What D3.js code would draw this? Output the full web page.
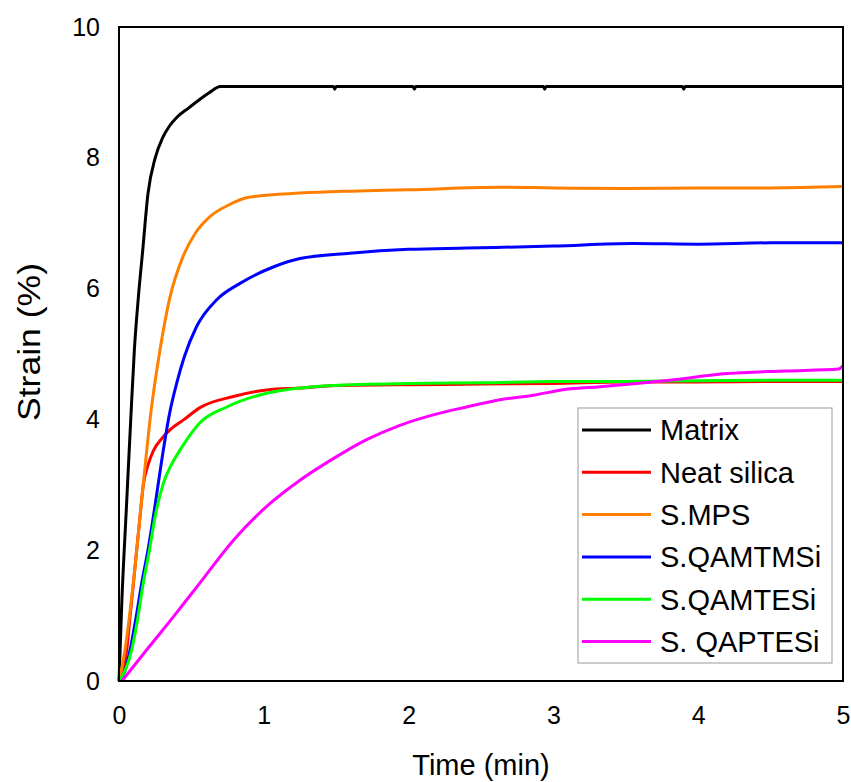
<!DOCTYPE html>
<html>
<head>
<meta charset="utf-8">
<script src="https://cdn.jsdelivr.net/npm/d3@7"></script>
<style>
  html, body { margin: 0; padding: 0; background: #fff; }
  svg text { font-family: "Liberation Sans", Arial, sans-serif; fill: #000; }
</style>
</head>
<body>
<div id="chart"></div>
<script>
(function () {
    // --- Datos ---
    const seriesNames = ["Matrix", "Neat silica", "S.MPS", "S.QAMTMSi", "S.QAMTESi", "S. QAPTESi"];
    const seriesColors = ["#000000", "#ff0000", "#ff8000", "#0000ff", "#00ff00", "#ff00ff"];

    const matrixTime = [0, 0.02, 0.05, 0.08, 0.106, 0.135, 0.164, 0.2, 0.25, 0.3, 0.35, 0.4, 0.48, 0.55, 0.62, 0.7,
        1.48, 1.49, 1.5, 2.03, 2.04, 2.05, 2.93, 2.94, 2.95, 3.89, 3.9, 3.91, 5.0];
    const matrixStrain = [0, 1.24, 2.6, 3.95, 5.06, 5.9, 6.59, 7.45, 8.0, 8.3, 8.49, 8.62, 8.76, 8.88, 8.99, 9.09,
        9.09, 9.05, 9.09, 9.09, 9.05, 9.09, 9.09, 9.05, 9.09, 9.09, 9.05, 9.09, 9.09];

    const silicaTime = [0, 0.025, 0.053, 0.076, 0.1, 0.122, 0.145, 0.168, 0.2, 0.237, 0.3, 0.352, 0.45, 0.559, 0.79,
        1.02, 1.25, 1.5, 2.0, 2.5, 3.0, 3.5, 4.0, 4.5, 5.0];
    const silicaStrain = [0, 0.15, 0.47, 0.98, 1.5, 2.0, 2.51, 3.0, 3.3, 3.52, 3.72, 3.84, 4.0, 4.18, 4.35,
        4.45, 4.48, 4.52, 4.53, 4.54, 4.55, 4.57, 4.57, 4.58, 4.58];

    const mpsTime = [0, 0.041, 0.099, 0.168, 0.22, 0.283, 0.35, 0.444, 0.528, 0.628, 0.75, 0.905, 1.25, 1.6,
        2.0, 2.63, 3.0, 3.5, 4.0, 4.5, 5.0];
    const mpsStrain = [0, 0.47, 1.5, 3.02, 4.1, 5.06, 5.85, 6.5, 6.85, 7.1, 7.27, 7.4, 7.46, 7.49,
        7.51, 7.55, 7.54, 7.53, 7.54, 7.54, 7.56];

    const qamtmsTime = [0, 0.04, 0.076, 0.12, 0.157, 0.2, 0.237, 0.306, 0.35, 0.398, 0.45, 0.536, 0.675, 0.836,
        1.065, 1.25, 1.595, 2.0, 2.4, 3.0, 3.55, 4.0, 4.5, 5.0];
    const qamtmsStrain = [0, 0.15, 0.47, 1.0, 1.5, 2.0, 2.51, 3.53, 4.1, 4.55, 4.95, 5.42, 5.83, 6.08,
        6.33, 6.46, 6.54, 6.6, 6.62, 6.65, 6.69, 6.68, 6.7, 6.7];

    const qamtesTime = [0, 0.04, 0.087, 0.125, 0.168, 0.21, 0.249, 0.306, 0.36, 0.421, 0.559, 0.744, 1.02, 1.48,
        2.0, 2.5, 3.0, 3.5, 4.0, 4.5, 5.0];
    const qamtesStrain = [0, 0.15, 0.47, 0.9, 1.5, 2.0, 2.51, 3.02, 3.3, 3.53, 3.95, 4.19, 4.4, 4.52,
        4.55, 4.56, 4.58, 4.58, 4.59, 4.6, 4.6];

    const qaptesTime = [0.02, 0.2, 0.375, 0.559, 0.789, 1.02, 1.25, 1.48, 1.71, 1.94, 2.17,
        2.4, 2.63, 2.86, 3.09, 3.32, 3.8, 4.2, 4.6, 4.97, 5.0];
    const qaptesStrain = [0, 0.5, 0.98, 1.5, 2.15, 2.67, 3.07, 3.4, 3.69, 3.91, 4.07,
        4.19, 4.3, 4.37, 4.46, 4.5, 4.6, 4.7, 4.74, 4.77, 4.82];

    const xTicks = [0, 1, 2, 3, 4, 5];
    const yTicks = [0, 2, 4, 6, 8, 10];

    const seriesTime = [matrixTime, silicaTime, mpsTime, qamtmsTime, qamtesTime, qaptesTime];
    const seriesStrain = [matrixStrain, silicaStrain, mpsStrain, qamtmsStrain, qamtesStrain, qaptesStrain];

    // --- Dimensiones ---
    const width = 851, height = 782;
    const margin = {top: 27, right: 8, bottom: 101, left: 119};

    const svg = d3.select("#chart").append("svg")
        .attr("width", width)
        .attr("height", height);

    const x = d3.scaleLinear().domain([0, 5]).range([margin.left, width - margin.right]);
    const y = d3.scaleLinear().domain([0, 10]).range([height - margin.bottom, margin.top]);

    // Ejes (sin marcas de graduación)
    const xAxis = svg.append("g")
        .attr("transform", `translate(0,${height - margin.bottom})`)
        .call(d3.axisBottom(x).tickValues(xTicks).tickSize(0).tickPadding(25).tickFormat(d3.format("d")));
    xAxis.select(".domain").remove();
    xAxis.selectAll("text").style("font-size", "25px");

    const yAxis = svg.append("g")
        .attr("transform", `translate(${margin.left},0)`)
        .call(d3.axisLeft(y).tickValues(yTicks).tickSize(0).tickPadding(19).tickFormat(d3.format("d")));
    yAxis.select(".domain").remove();
    yAxis.selectAll("text").style("font-size", "25px");

    // Curvas
    const line = d3.line()
        .x(d => x(d[0]))
        .y(d => y(d[1]))
        .curve(d3.curveMonotoneX);

    seriesNames.forEach((name, i) => {
        const pts = seriesTime[i].map((t, j) => [t, seriesStrain[i][j]]);
        svg.append("path")
            .datum(pts)
            .attr("fill", "none")
            .attr("stroke", seriesColors[i])
            .attr("stroke-width", 3)
            .attr("stroke-linejoin", "round")
            .attr("d", line);
    });

    // Marco del área de trazado
    svg.append("rect")
        .attr("x", x(0))
        .attr("y", y(10))
        .attr("width", x(5) - x(0))
        .attr("height", y(0) - y(10))
        .attr("fill", "none")
        .attr("stroke", "#000")
        .attr("stroke-width", 2);

    // Títulos de los ejes
    svg.append("text")
        .attr("x", (x(0) + x(5)) / 2)
        .attr("y", 775)
        .attr("text-anchor", "middle")
        .style("font-size", "29px")
        .text("Time (min)");

    svg.append("text")
        .attr("transform", "translate(40,342) rotate(-90)")
        .attr("text-anchor", "middle")
        .attr("textLength", 158)
        .attr("lengthAdjust", "spacingAndGlyphs")
        .style("font-size", "31px")
        .text("Strain (%)");

    // Leyenda
    const legend = svg.append("g").attr("transform", "translate(578,408)");
    legend.append("rect")
        .attr("width", 254)
        .attr("height", 255)
        .attr("fill", "#fff")
        .attr("stroke", "#999")
        .attr("stroke-width", 1);

    seriesNames.forEach((name, i) => {
        const ly = 22 + i * 42.3;
        legend.append("line")
            .attr("x1", 4).attr("x2", 73)
            .attr("y1", ly).attr("y2", ly)
            .attr("stroke", seriesColors[i])
            .attr("stroke-width", 3);
        legend.append("text")
            .attr("x", 82)
            .attr("y", ly)
            .attr("dy", "0.36em")
            .style("font-size", "29px")
            .text(name);
    });
})();
</script>
</body>
</html>
